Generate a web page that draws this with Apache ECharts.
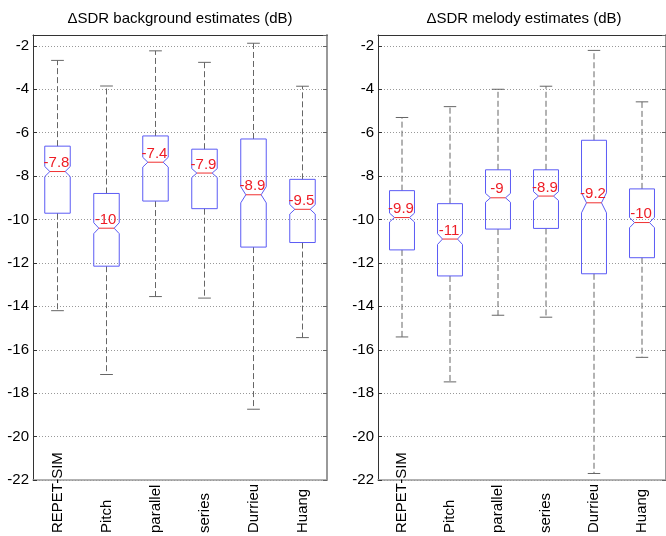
<!DOCTYPE html>
<html>
<head>
<meta charset="utf-8">
<title>ΔSDR estimates</title>
<script src="https://cdn.jsdelivr.net/npm/echarts@6/dist/echarts.min.js"></script>
<style>
    html, body { margin: 0; padding: 0; background: #fff; }
    #chart { width: 666px; height: 536px; }
</style>
</head>
<body>
<div id="chart"></div>
<script>
    // methods on the x axis (both panels)
    var methods = ['REPET-SIM', 'Pitch', 'parallel', 'series', 'Durrieu', 'Huang'];

    // background estimates (dB)
    var bgHigh = [-2.67, -3.85, -2.23, -2.76, -1.88, -3.86];
    var bgQ3   = [-6.62, -8.8, -6.15, -6.76, -6.29, -8.15];
    var bgMed  = [-7.79, -10.4, -7.36, -7.86, -8.86, -9.53];
    var bgQ1   = [-9.71, -12.15, -9.15, -9.5, -11.27, -11.06];
    var bgLow  = [-14.2, -17.14, -13.55, -13.62, -18.74, -15.44];

    // melody estimates (dB)
    var melHigh = [-5.3, -4.8, -4.0, -3.86, -2.21, -4.58];
    var melQ3   = [-8.67, -9.27, -7.71, -7.71, -6.35, -8.59];
    var melMed  = [-9.91, -10.9, -9.0, -8.92, -9.23, -10.14];
    var melQ1   = [-11.4, -12.6, -10.44, -10.41, -12.5, -11.76];
    var melLow  = [-15.41, -17.48, -14.41, -14.5, -21.7, -16.35];

    var notchFactor = 0.075; // notch half height as share of the IQR
    var FONT = '15px "Liberation Sans", Arial, sans-serif';

    function rows(lo, q1, med, q3, hi) {
        return methods.map(function (m, i) { return [i, lo[i], q1[i], med[i], q3[i], hi[i]]; });
    }

    function renderBox(params, api) {
        var i = api.value(0);
        var lo = api.value(1), q1 = api.value(2), med = api.value(3), q3 = api.value(4), hi = api.value(5);
        var x = api.coord([i, med])[0];
        var y = function (v) { return api.coord([i, v])[1]; };
        var bw = api.size([1, 0])[0] * 0.26;
        var n = notchFactor * (q3 - q1);
        var inset = bw * 0.4;
        var pts = [
            [x - bw, y(q3)], [x + bw, y(q3)], [x + bw, y(med + n)], [x + bw - inset, y(med)],
            [x + bw, y(med - n)], [x + bw, y(q1)], [x - bw, y(q1)], [x - bw, y(med - n)],
            [x - bw + inset, y(med)], [x - bw, y(med + n)]
        ];
        var cap = bw * 0.5;
        var dash = { stroke: '#666', lineWidth: 1, lineDash: [6, 3] };
        var solid = { stroke: '#666', lineWidth: 1 };
        return {
            type: 'group',
            children: [
                { type: 'line', shape: { x1: x, y1: y(q3), x2: x, y2: y(hi) }, style: dash },
                { type: 'line', shape: { x1: x, y1: y(q1), x2: x, y2: y(lo) }, style: dash },
                { type: 'line', shape: { x1: x - cap, y1: y(hi), x2: x + cap, y2: y(hi) }, style: solid },
                { type: 'line', shape: { x1: x - cap, y1: y(lo), x2: x + cap, y2: y(lo) }, style: solid },
                { type: 'polygon', shape: { points: pts }, style: { fill: 'none', stroke: '#5b5bf5', lineWidth: 1 } },
                { type: 'line', shape: { x1: x - bw + inset, y1: y(med), x2: x + bw - inset, y2: y(med) },
                  style: { stroke: '#f03030', lineWidth: 1 } },
                { type: 'text', style: {
                    text: String(Number(med.toPrecision(2))), x: x - 1, y: y(med) - 1,
                    align: 'center', verticalAlign: 'bottom', fill: '#ee1c25', font: FONT } }
            ]
        };
    }

    var chart = echarts.init(document.getElementById('chart'));

    function xAxes(gi) {
        return [{
            type: 'category', gridIndex: gi, data: methods, position: 'bottom',
            axisLine: { lineStyle: { color: '#999', width: 1.5 } },
            axisTick: { show: false },
            axisLabel: { rotate: 90, align: 'left', verticalAlign: 'middle', margin: 53,
                         color: '#000', fontSize: 15, fontFamily: 'Liberation Sans' }
        }, {
            type: 'category', gridIndex: gi, data: methods, position: 'top',
            axisLine: { lineStyle: { color: '#333', width: 1 } },
            axisTick: { show: false }, axisLabel: { show: false }
        }];
    }

    function yAxes(gi) {
        return [{
            type: 'value', gridIndex: gi, min: -22, max: -1.5, interval: 2, position: 'left',
            axisLine: { show: true, lineStyle: { color: '#333', width: 1 } },
            axisTick: { show: true, inside: true, length: 4, lineStyle: { color: '#333' } },
            axisLabel: { showMaxLabel: false, margin: 4, color: '#000', fontSize: 15, fontFamily: 'Liberation Sans' },
            splitLine: { show: true, lineStyle: { color: '#999', type: [1, 2] } }
        }, {
            type: 'value', gridIndex: gi, min: -22, max: -1.5, interval: 2, position: 'right',
            axisLine: { show: true, lineStyle: { color: '#999', width: 2 } },
            axisTick: { show: true, inside: true, length: 4, lineStyle: { color: '#666' } },
            axisLabel: { show: false }, splitLine: { show: false }
        }];
    }

    chart.setOption({
        animation: false,
        backgroundColor: '#fff',
        graphic: [
            { type: 'text', x: 180, y: 19, style: { text: 'ΔSDR background estimates (dB)', align: 'center',
              verticalAlign: 'middle', font: FONT, fill: '#000' } },
            { type: 'text', x: 524, y: 19, style: { text: 'ΔSDR melody estimates (dB)', align: 'center',
              verticalAlign: 'middle', font: FONT, fill: '#000' } }
        ],
        grid: [
            { left: 33, top: 35, width: 294, height: 451 },
            { left: 378, top: 35, width: 294, height: 451 }
        ],
        xAxis: xAxes(0).concat(xAxes(1)),
        yAxis: yAxes(0).concat(yAxes(1)),
        series: [{
            type: 'custom', xAxisIndex: 0, yAxisIndex: 0, renderItem: renderBox,
            encode: { x: 0, y: [1, 2, 3, 4, 5] },
            data: rows(bgLow, bgQ1, bgMed, bgQ3, bgHigh)
        }, {
            type: 'custom', xAxisIndex: 2, yAxisIndex: 2, renderItem: renderBox,
            encode: { x: 0, y: [1, 2, 3, 4, 5] },
            data: rows(melLow, melQ1, melMed, melQ3, melHigh)
        }]
    });
</script>
</body>
</html>
